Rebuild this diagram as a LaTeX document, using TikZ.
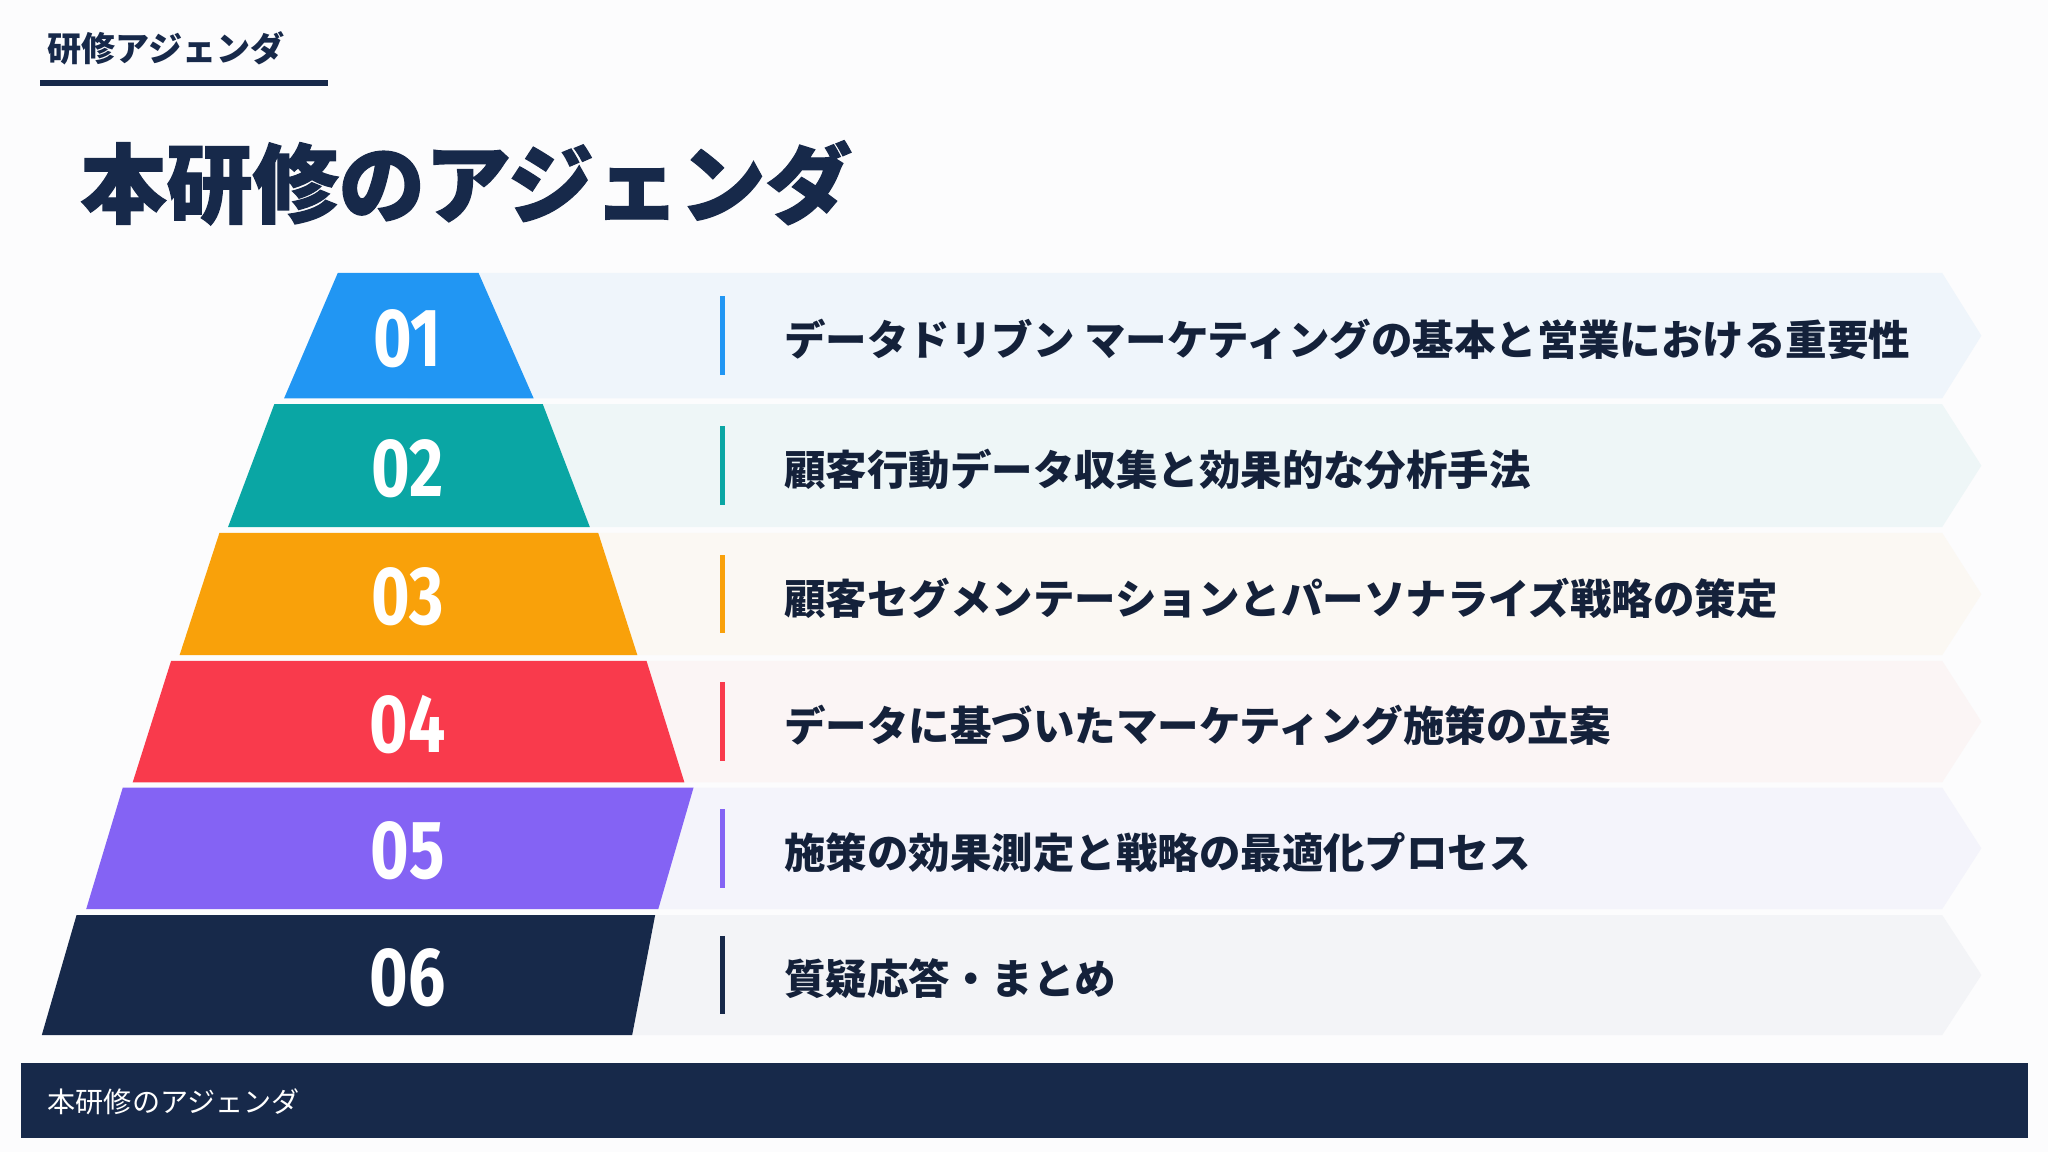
\documentclass[tikz,border=0pt]{standalone}
\usepackage{fontspec}
\setmainfont{Noto Sans CJK JP}
\newfontfamily\numfont[FakeStretch=0.8]{Fira Sans}
\newfontfamily\titlefont[FakeBold=1.5]{Noto Sans CJK JP}
\usepackage{tikz}

\definecolor{navy}{HTML}{17294A}
\definecolor{inkdark}{HTML}{14213A}
\definecolor{bgwhite}{HTML}{FCFCFD}
\definecolor{cblue}{HTML}{2196F3}
\definecolor{cteal}{HTML}{0AA6A4}
\definecolor{corange}{HTML}{F9A10A}
\definecolor{cred}{HTML}{F93A4C}
\definecolor{cpurple}{HTML}{8463F4}
\definecolor{tblue}{HTML}{EFF5FB}
\definecolor{tteal}{HTML}{EEF6F7}
\definecolor{torange}{HTML}{FBF8F3}
\definecolor{tred}{HTML}{FBF5F5}
\definecolor{tpurple}{HTML}{F4F4FB}
\definecolor{tgray}{HTML}{F3F4F7}

\tikzset{
  num/.style={text=white,inner sep=0,font=\fontsize{23.5}{26}\selectfont\numfont\bfseries},
  item/.style={anchor=west,inner sep=0,text=inkdark,font=\fontsize{11.8}{14}\selectfont\bfseries},
  bar/.style={line width=1.5pt}
}

\begin{document}
\begin{tikzpicture}[x=0.013061cm,y=-0.013061cm]
  \useasboundingbox (0,0) rectangle (1568,882);
  \fill[bgwhite] (0,0) rectangle (1568,882);

  %header
  \node[anchor=west,inner sep=0,text=navy,font=\fontsize{9.7}{11}\selectfont\bfseries] (hdr) at (36,37) {研修アジェンダ};
  \draw[navy,line width=1.7pt] (31,63.5) -- (251,63.5);
  \node[anchor=west,inner sep=0,text=navy,font=\fontsize{24.5}{28}\selectfont\titlefont\bfseries] (title) at (61,140) {本研修のアジェンダ};

  %01
  \fill[tblue] (312,209) -- (1487,209) -- (1517,257) -- (1487,305) -- (312,305) -- cycle;
  \fill[cblue] (258.6,209) -- (366.4,209) -- (408.6,305) -- (217.5,305) -- cycle;
  \node[num] (n01) at (312,259) {01};
  \draw[bar,cblue] (553,227) -- (553,287);
  \node[item] (t01) at (600,260) {データドリブン マーケティングの基本と営業における重要性};

  %02
  \fill[tteal] (312,309.5) -- (1487,309.5) -- (1517,356.5) -- (1487,403.5) -- (312,403.5) -- cycle;
  \fill[cteal] (210,309.5) -- (415.6,309.5) -- (451.6,403.5) -- (174.6,403.5) -- cycle;
  \node[num] (n02) at (312,358.5) {02};
  \draw[bar,cteal] (553,326.5) -- (553,386.5);
  \node[item] (t02) at (600,359.5) {顧客行動データ収集と効果的な分析手法};

  %03
  \fill[torange] (312,408) -- (1487,408) -- (1517,455) -- (1487,501.6) -- (312,501.6) -- cycle;
  \fill[corange] (168,408) -- (458,408) -- (488,501.6) -- (137.5,501.6) -- cycle;
  \node[num] (n03) at (312,457) {03};
  \draw[bar,corange] (553,425) -- (553,485);
  \node[item] (t03) at (600,458) {顧客セグメンテーションとパーソナライズ戦略の策定};

  %04
  \fill[tred] (312,506) -- (1487,506) -- (1517,552.5) -- (1487,599) -- (312,599) -- cycle;
  \fill[cred] (131,506) -- (495,506) -- (524,599) -- (101.6,599) -- cycle;
  \node[num] (n04) at (312,554.5) {04};
  \draw[bar,cred] (553,522.5) -- (553,582.5);
  \node[item] (t04) at (600,555.5) {データに基づいたマーケティング施策の立案};

  %05
  \fill[tpurple] (312,603) -- (1487,603) -- (1517,649.5) -- (1487,696) -- (312,696) -- cycle;
  \fill[cpurple] (94,603) -- (531,603) -- (504,696) -- (66,696) -- cycle;
  \node[num] (n05) at (312,651.5) {05};
  \draw[bar,cpurple] (553,619.5) -- (553,679.5);
  \node[item] (t05) at (600,652.5) {施策の効果測定と戦略の最適化プロセス};

  %06
  \fill[tgray] (312,700.6) -- (1487,700.6) -- (1517,746.5) -- (1487,792.5) -- (312,792.5) -- cycle;
  \fill[navy] (58.6,700.6) -- (501.6,700.6) -- (484,792.5) -- (32,792.5) -- cycle;
  \node[num] (n06) at (312,748.5) {06};
  \draw[bar,navy] (553,716.5) -- (553,776.5);
  \node[item] (t06) at (600,749.5) {質疑応答・まとめ};

  %footer
  \fill[navy] (16.4,814) rectangle (1553,871);
  \node[anchor=west,inner sep=0,text=white,font=\fontsize{8}{10}\selectfont] (foot) at (36,843.5) {本研修のアジェンダ};

\end{tikzpicture}
\end{document}
